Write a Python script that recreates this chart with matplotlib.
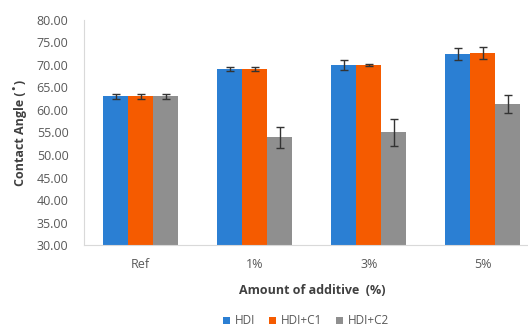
import numpy as np
import matplotlib
matplotlib.use("Agg")
import matplotlib.pyplot as plt

categories = ["Ref", "1%", "3%", "5%"]
series = ["HDI", "HDI+C1", "HDI+C2"]
hdi = [63.0, 69.1, 70.0, 72.4]
hdi_c1 = [63.0, 69.1, 70.0, 72.7]
hdi_c2 = [63.0, 53.9, 55.0, 61.3]
hdi_err = [0.6, 0.5, 1.1, 1.4]
hdi_c1_err = [0.6, 0.5, 0.3, 1.4]
hdi_c2_err = [0.6, 2.3, 2.9, 2.0]
yticks = [30, 35, 40, 45, 50, 55, 60, 65, 70, 75, 80]

colors = ["#2B7FD3", "#F55B00", "#8F8F8F"]
plt.rcParams["font.family"] = ["Open Sans", "DejaVu Sans"]

fig = plt.figure(figsize=(5.28, 3.31), dpi=100)
ax = fig.add_axes([0.1587, 0.2598, 0.8636, 0.6798])

x = np.arange(len(categories))
w = 0.219
values = [hdi, hdi_c1, hdi_c2]
errs = [hdi_err, hdi_c1_err, hdi_c2_err]
for i, (vals, err, c, name) in enumerate(zip(values, errs, colors, series)):
    pos = x + (i - 1) * w
    ax.bar(pos, np.array(vals) - 30, bottom=30, width=w, color=c, label=name,
           linewidth=0)
    ax.errorbar(pos, vals, yerr=err, fmt="none", ecolor="#333333",
                elinewidth=1.0, capsize=3, capthick=1.0)

ax.set_xlim(-0.5, 3.5)
ax.set_ylim(30, 80)
ax.set_yticks(yticks)
ax.set_yticklabels([f"{v:.2f}" for v in yticks])
ax.set_xticks(x)
ax.set_xticklabels(categories)
ax.tick_params(axis="both", length=0, labelsize=9, labelcolor="#595959")
ax.tick_params(axis="y", pad=11)
ax.tick_params(axis="x", pad=9)

for s in ["top", "right"]:
    ax.spines[s].set_visible(False)
for s in ["left", "bottom"]:
    ax.spines[s].set_color("#D9D9D9")
    ax.spines[s].set_linewidth(0.8)

ax.set_ylabel("Contact Angle (˚)", fontsize=9, fontweight="bold", color="#404040")
ax.yaxis.set_label_coords(-0.125, 0.5)
ax.set_xlabel("Amount of additive  (%)", fontsize=9, fontweight="bold", color="#404040")
ax.xaxis.set_label_coords(0.5, -0.175)

leg = fig.legend(loc="center", bbox_to_anchor=(306 / 528, 1 - 321 / 331), ncol=3,
                 frameon=False, fontsize=8.5, handlelength=0.6, handleheight=0.6,
                 handletextpad=0.4, columnspacing=1.2)
for t in leg.get_texts():
    t.set_color("#595959")

fig.savefig("out.png", dpi=100)
